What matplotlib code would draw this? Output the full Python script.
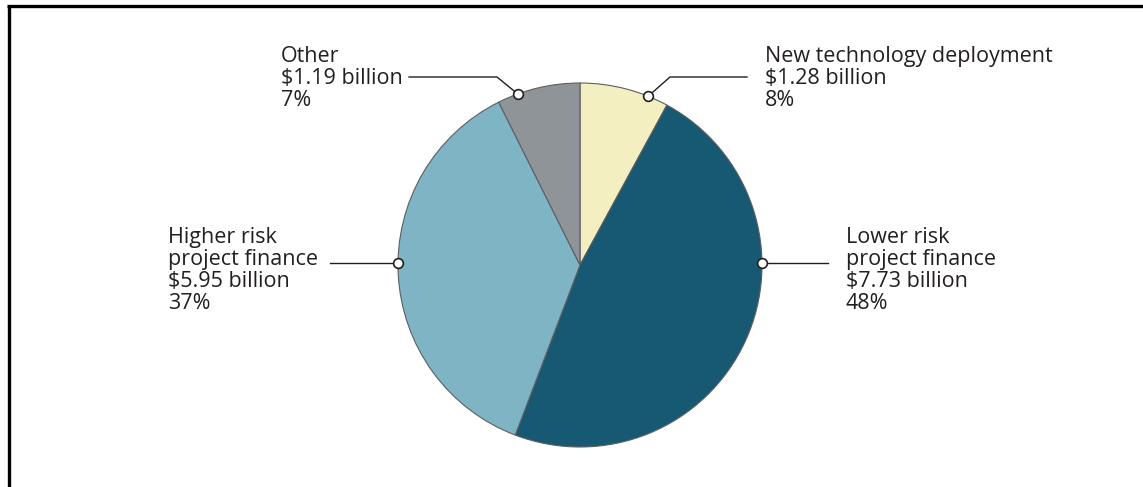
import numpy as np
import matplotlib
matplotlib.use("Agg")
import matplotlib.pyplot as plt

# ---- data ----
categories = ["New technology deployment", "Lower risk\nproject finance",
              "Higher risk\nproject finance", "Other"]
values = [1.28, 7.73, 5.95, 1.19]            # $ billion
percent_labels = ["8%", "48%", "37%", "7%"]
amount_labels = ["$1.28 billion", "$7.73 billion", "$5.95 billion", "$1.19 billion"]

# ---- style ----
colors = ["#F4EFC1", "#175872", "#7FB4C4", "#8F9499"]
W, H = 1143, 487
CX, CY, R = 580, 265, 182
FONT = "Open Sans"
FS = 15.5
TXT = "#231f20"
LINE_H = 22.0

plt.rcParams['font.family'] = [FONT, 'DejaVu Sans']

fig = plt.figure(figsize=(W / 100, H / 100), dpi=100)
ax = fig.add_axes([0, 0, 1, 1])

def Y(py):
    return H - py

ax.pie(values, colors=colors, startangle=90, counterclock=False,
       center=(CX, Y(CY)), radius=R, frame=True,
       wedgeprops=dict(edgecolor="#5a5f63", linewidth=0.8))
ax.set_xlim(0, W)
ax.set_ylim(0, H)
ax.set_aspect('equal')
ax.axis('off')

# frame (left and top rules)
ax.plot([8.5, 8.5], [Y(6), Y(H + 5)], color="black", lw=2.4, solid_capstyle='butt', clip_on=False)
ax.plot([7.3, W], [Y(6.2), Y(6.2)], color="black", lw=2.4, solid_capstyle='butt', clip_on=False)

# label layout: anchor angle on rim, leader path end points (pixels), text origin
anchor_angles = [68, 0.5, 179.5, 110]
def rim(angle):
    a = np.deg2rad(angle)
    return CX + R * np.cos(a), CY - R * np.sin(a)

leaders = [
    [(670, 77), (747, 77)],
    [(828, None)],
    [(330, None)],
    [(497, 77), (409, 77)],
]
text_pos = [(765, 62), (846, 243), (168, 243), (281, 62)]

for i in range(len(values)):
    ax_, ay_ = rim(anchor_angles[i])
    pts = [(ax_, ay_)] + [(px, ay_ if py is None else py) for px, py in leaders[i]]
    xs = [p[0] for p in pts]
    ys = [Y(p[1]) for p in pts]
    ax.plot(xs, ys, color="#231f20", lw=1.0, zorder=5)
    ax.plot([ax_], [Y(ay_)], marker='o', ms=7, mfc='white', mec='#231f20', mew=1.2, zorder=6)
    lines = categories[i].split("\n") + [amount_labels[i], percent_labels[i]]
    tx, ty = text_pos[i]
    for k, ln in enumerate(lines):
        ax.text(tx, Y(ty + k * LINE_H), ln, ha='left', va='baseline', fontsize=FS,
                color=TXT, family=[FONT, 'DejaVu Sans'])

fig.savefig("out.png", dpi=100, facecolor="white")
